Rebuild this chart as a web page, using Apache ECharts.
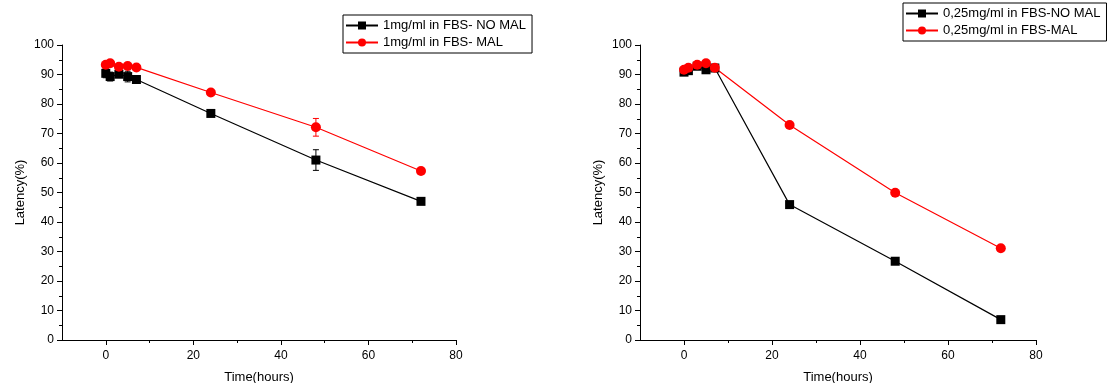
<!DOCTYPE html>
<html>
<head>
<meta charset="utf-8">
<script src="https://cdn.jsdelivr.net/npm/echarts@6/dist/echarts.min.js"></script>
<style>
html,body{margin:0;padding:0;background:#fff;}
#c{width:1110px;height:383px;}
</style>
</head>
<body>
<div id="c"></div>
<script>
// ---- data ----
const timeLeft = [0, 1, 3, 5, 7, 24, 48, 72];
const leftNoMal = [90.4, 89.3, 90.1, 89.3, 88.3, 76.8, 61.0, 47.0];
const leftNoMalErr = [1.5, 1.5, 1.0, 1.8, 1.3, 0.5, 3.5, 0.5];
const leftMal = [93.3, 93.8, 92.6, 92.9, 92.4, 83.9, 72.1, 57.3];
const leftMalErr = [0.5, 0.5, 0.5, 0.5, 0.5, 0.5, 3.0, 0.5];

const timeRight = [0, 1, 3, 5, 7, 24, 48, 72];
const rightNoMal = [90.8, 91.3, 92.8, 91.6, 92.2, 45.9, 26.7, 6.9];
const rightMal = [91.6, 92.3, 93.3, 93.8, 92.3, 72.9, 49.9, 31.1];

const xTickValues = [0, 20, 40, 60, 80];
const xMinorValues = [10, 30, 50, 70];

const nameLeftNoMal = '1mg/ml in FBS- NO MAL';
const nameLeftMal = '1mg/ml in FBS- MAL';
const nameRightNoMal = '0,25mg/ml in FBS-NO MAL';
const nameRightMal = '0,25mg/ml in FBS-MAL';

// ---- helpers ----
const FONT = 'Liberation Sans, Arial, sans-serif';
function pairs(xs, ys){ return xs.map((x,i)=>[x, ys[i]]); }
function errData(xs, ys, es){ return xs.map((x,i)=>[x, ys[i]-es[i], ys[i]+es[i]]); }

function errSeries(data, color, xi, yi){
  return {
    type:'custom', name:'err'+xi+color, xAxisIndex:xi, yAxisIndex:yi, z:1,
    silent:true, encode:{x:0, y:[1,2]}, data:data,
    renderItem:function(params, api){
      const x = api.value(0), lo = api.value(1), hi = api.value(2);
      const p1 = api.coord([x, lo]), p2 = api.coord([x, hi]);
      const w = 3;
      const st = {stroke:color, lineWidth:1};
      return {type:'group', children:[
        {type:'line', shape:{x1:p1[0], y1:p1[1], x2:p2[0], y2:p2[1]}, style:st},
        {type:'line', shape:{x1:p1[0]-w, y1:p1[1], x2:p1[0]+w, y2:p1[1]}, style:st},
        {type:'line', shape:{x1:p2[0]-w, y1:p2[1], x2:p2[0]+w, y2:p2[1]}, style:st}
      ]};
    }
  };
}

function lineSeries(name, data, color, symbol, size, xi, yi){
  return {
    type:'line', name:name, xAxisIndex:xi, yAxisIndex:yi, data:data,
    symbol:symbol, symbolSize:size, showAllSymbol:true, z:3,
    lineStyle:{color:color, width:1.2}, itemStyle:{color:color},
    emphasis:{disabled:true}, animation:false
  };
}

function mainX(gi){
  return {
    type:'value', gridIndex:gi, min:-10, max:80,
    name:'Time(hours)', nameLocation:'middle', nameGap:31,
    nameTextStyle:{fontFamily:FONT, fontSize:13, color:'#000'},
    axisLine:{show:true, onZero:false, lineStyle:{color:'#000', width:1}},
    axisTick:{show:true, customValues:xTickValues, length:5, lineStyle:{color:'#000'}},
    axisLabel:{customValues:xTickValues, margin:10, fontFamily:FONT, fontSize:12, color:'#000'},
    splitLine:{show:false}
  };
}
function minorX(gi){
  return {
    type:'value', gridIndex:gi, min:-10, max:80, position:'bottom',
    axisLine:{show:false, onZero:false},
    axisTick:{show:true, customValues:xMinorValues, length:3, lineStyle:{color:'#000'}},
    axisLabel:{show:false},
    splitLine:{show:false}
  };
}
function mainY(gi){
  return {
    type:'value', gridIndex:gi, min:0, max:100, interval:10,
    name:'Latency(%)', nameLocation:'middle', nameGap:35,
    nameTextStyle:{fontFamily:FONT, fontSize:13, color:'#000'},
    axisLine:{show:true, onZero:false, lineStyle:{color:'#000', width:1}},
    axisTick:{show:true, length:5, lineStyle:{color:'#000'}},
    minorTick:{show:true, splitNumber:2, length:3, lineStyle:{color:'#000'}},
    axisLabel:{margin:8, fontFamily:FONT, fontSize:12, color:'#000'},
    splitLine:{show:false}
  };
}
function legend(names, left, top){
  return {
    orient:'vertical', left:left, top:top, data:names,
    itemWidth:32, itemHeight:10, itemGap:4,
    padding:[4,6,4,2],
    borderColor:'#000', borderWidth:1, borderRadius:0,
    textStyle:{fontFamily:FONT, fontSize:13, color:'#000'},
    selectedMode:false
  };
}

const chart = echarts.init(document.getElementById('c'), null, {renderer:'canvas'});
chart.setOption({
  animation:false,
  backgroundColor:'#fff',
  grid:[
    {left:62, top:45, width:394, height:295, outerBoundsMode:'none', containLabel:false},
    {left:640, top:45, width:396, height:295, outerBoundsMode:'none', containLabel:false}
  ],
  xAxis:[mainX(0), minorX(0), mainX(1), minorX(1)],
  yAxis:[mainY(0), mainY(1)],
  legend:[
    legend([nameLeftNoMal, nameLeftMal], 343, 15),
    legend([nameRightNoMal, nameRightMal], 903, 3)
  ],
  series:[
    errSeries(errData(timeLeft, leftNoMal, leftNoMalErr), '#000', 0, 0),
    errSeries(errData(timeLeft, leftMal, leftMalErr), '#ff0000', 0, 0),
    lineSeries(nameLeftNoMal, pairs(timeLeft, leftNoMal), '#000', 'rect', 9, 0, 0),
    lineSeries(nameLeftMal, pairs(timeLeft, leftMal), '#ff0000', 'circle', 10, 0, 0),
    lineSeries(nameRightNoMal, pairs(timeRight, rightNoMal), '#000', 'rect', 9, 2, 1),
    lineSeries(nameRightMal, pairs(timeRight, rightMal), '#ff0000', 'circle', 10, 2, 1)
  ]
});
</script>
</body>
</html>
